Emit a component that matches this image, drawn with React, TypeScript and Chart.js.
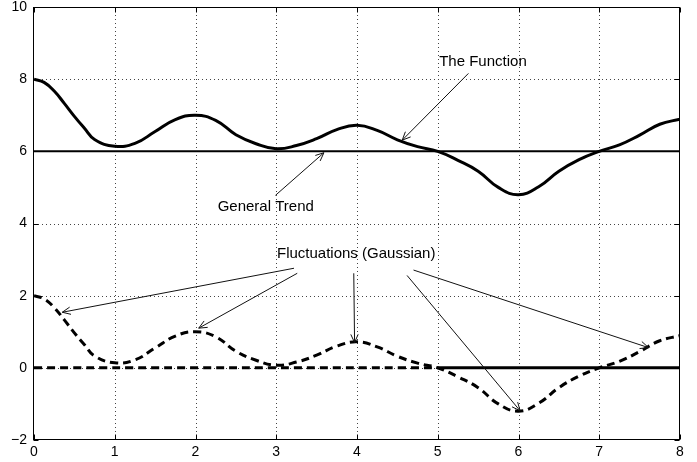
import React, { useEffect, useRef } from "react";
import { Chart, registerables } from "chart.js";

Chart.register(...registerables);

// ---- data ----
const xValues = [
  0, 0.125, 0.25, 0.375, 0.5, 0.625, 0.75, 1, 1.25, 1.5, 1.75, 2, 2.25, 2.5, 2.75, 3, 3.25, 3.5, 3.75, 4,
  4.25, 4.5, 4.75, 5, 5.25, 5.5, 5.75, 6, 6.25, 6.5, 6.75, 7, 7.25, 7.5, 7.75, 8,
];
const functionValues = [
  8.0, 7.91, 7.67, 7.33, 6.97, 6.64, 6.33, 6.14, 6.22, 6.55, 6.88, 7.0, 6.86, 6.46, 6.21, 6.07, 6.16, 6.35, 6.6, 6.72,
  6.58, 6.32, 6.13, 6.0, 5.75, 5.45, 5.0, 4.8, 5.02, 5.45, 5.77, 6.0, 6.18, 6.45, 6.75, 6.89,
];
const fluctuationValues = [
  2.0, 1.91, 1.67, 1.33, 0.97, 0.64, 0.33, 0.14, 0.22, 0.55, 0.88, 1.0, 0.86, 0.46, 0.21, 0.07, 0.16, 0.35, 0.6, 0.72,
  0.58, 0.32, 0.13, 0.0, -0.25, -0.55, -1.0, -1.2, -0.98, -0.55, -0.23, 0.0, 0.18, 0.45, 0.75, 0.89,
];
const trendX = [0, 8];
const trendY = [6, 6];
const baselineDashedX = [0, 5];
const baselineSolidX = [5, 8];
const baselineY = [0, 0];

const xTicks = [0, 1, 2, 3, 4, 5, 6, 7, 8];
const yTicks = [-2, 0, 2, 4, 6, 8, 10];

// annotation texts (data coordinates)
const labelTexts = ["The Function", "General Trend", "Fluctuations (Gaussian)"];
const labelX = [5.56, 2.87, 3.99];
const labelY = [8.47, 4.47, 3.16];

// arrows (data coordinates)
const arrowFromX = [5.38, 2.99, 3.22, 3.26, 3.96, 4.62, 4.7];
const arrowFromY = [8.16, 4.78, 2.76, 2.62, 2.62, 2.56, 2.71];
const arrowToX = [4.56, 3.59, 0.35, 2.04, 3.97, 6.02, 7.61];
const arrowToY = [6.31, 5.96, 1.54, 1.1, 0.7, -1.19, 0.56];

const FONT = "'Liberation Sans', Arial, Helvetica, sans-serif";

const pts = (xs: number[], ys: number[]) => xs.map((x, i) => ({ x, y: ys[i] }));

const framePlugin = {
  id: "frame",
  beforeDatasetsDraw(chart: any) {
    const { ctx, chartArea: a, scales } = chart;
    const xs = scales.x;
    const ys = scales.y;
    ctx.save();
    ctx.strokeStyle = "#444";
    ctx.lineWidth = 1;
    ctx.setLineDash([1, 3]);
    xTicks.slice(1, -1).forEach((v) => {
      const px = Math.round(xs.getPixelForValue(v)) + 0.5;
      ctx.beginPath();
      ctx.moveTo(px, a.top);
      ctx.lineTo(px, a.bottom);
      ctx.stroke();
    });
    yTicks.slice(1, -1).forEach((v) => {
      const py = Math.round(ys.getPixelForValue(v)) + 0.5;
      ctx.beginPath();
      ctx.moveTo(a.left, py);
      ctx.lineTo(a.right, py);
      ctx.stroke();
    });
    ctx.restore();
  },
  afterDatasetsDraw(chart: any) {
    const { ctx, chartArea: a, scales } = chart;
    const xs = scales.x;
    const ys = scales.y;
    ctx.save();
    ctx.setLineDash([]);
    ctx.strokeStyle = "#000";
    ctx.lineWidth = 1;
    const L = Math.round(a.left) - 0.5;
    const R = Math.round(a.right) - 0.5;
    const T = Math.round(a.top) + 0.5;
    const B = Math.round(a.bottom) - 0.5;
    ctx.strokeRect(L, T, R - L, B - T);
    const tl = 5;
    xTicks.forEach((v) => {
      const px = Math.round(xs.getPixelForValue(v)) + 0.5;
      ctx.beginPath();
      ctx.moveTo(px, B);
      ctx.lineTo(px, B - tl);
      ctx.moveTo(px, T);
      ctx.lineTo(px, T + tl);
      ctx.stroke();
    });
    yTicks.forEach((v) => {
      const py = Math.round(ys.getPixelForValue(v)) + 0.5;
      ctx.beginPath();
      ctx.moveTo(L, py);
      ctx.lineTo(L + tl, py);
      ctx.moveTo(R, py);
      ctx.lineTo(R - tl, py);
      ctx.stroke();
    });
    ctx.lineWidth = 1;
    ctx.strokeStyle = "#111";
    arrowFromX.forEach((fx, i) => {
      const x1 = xs.getPixelForValue(fx);
      const y1 = ys.getPixelForValue(arrowFromY[i]);
      const x2 = xs.getPixelForValue(arrowToX[i]);
      const y2 = ys.getPixelForValue(arrowToY[i]);
      ctx.beginPath();
      ctx.moveTo(x1, y1);
      ctx.lineTo(x2, y2);
      ctx.stroke();
      const ang = Math.atan2(y2 - y1, x2 - x1);
      const hl = 9;
      const spread = 0.42;
      ctx.beginPath();
      ctx.moveTo(x2 - hl * Math.cos(ang - spread), y2 - hl * Math.sin(ang - spread));
      ctx.lineTo(x2, y2);
      ctx.lineTo(x2 - hl * Math.cos(ang + spread), y2 - hl * Math.sin(ang + spread));
      ctx.stroke();
    });
    ctx.fillStyle = "#000";
    ctx.font = `15px ${FONT}`;
    ctx.textAlign = "center";
    ctx.textBaseline = "middle";
    labelTexts.forEach((t, i) => {
      ctx.fillText(t, xs.getPixelForValue(labelX[i]), ys.getPixelForValue(labelY[i]));
    });
    ctx.restore();
  },
};

export default function App() {
  const ref = useRef<HTMLCanvasElement | null>(null);
  useEffect(() => {
    if (!ref.current) return;
    const lineBase = {
      pointRadius: 0,
      borderColor: "#000",
      backgroundColor: "#000",
      fill: false,
      tension: 0.45,
    };
    const chart = new Chart(ref.current, {
      type: "line",
      data: {
        datasets: [
          { ...lineBase, label: "Function", data: pts(xValues, functionValues), borderWidth: 3 },
          { ...lineBase, label: "Trend", data: pts(trendX, trendY), borderWidth: 2 },
          {
            ...lineBase,
            label: "Fluctuations",
            data: pts(xValues, fluctuationValues),
            borderWidth: 3,
            borderDash: [8, 5],
          },
          {
            ...lineBase,
            label: "Baseline dashed",
            data: pts(baselineDashedX, baselineY),
            borderWidth: 3,
            borderDash: [8, 5],
          },
          { ...lineBase, label: "Baseline solid", data: pts(baselineSolidX, baselineY), borderWidth: 3 },
        ],
      },
      options: {
        animation: false,
        responsive: true,
        maintainAspectRatio: false,
        layout: { padding: { top: 7, right: 17, left: 0, bottom: 0 }, autoPadding: false } as any,
        plugins: { legend: { display: false }, tooltip: { enabled: false } },
        scales: {
          x: {
            type: "linear",
            min: 0,
            max: 8,
            grid: { display: false, drawTicks: false },
            border: { display: false },
            afterBuildTicks: (s: any) => {
              s.ticks = xTicks.map((v) => ({ value: v }));
            },
            afterFit: (s: any) => {
              s.height = 22;
              s.paddingLeft = 0;
              s.paddingRight = 0;
              s.paddingTop = 0;
              s.paddingBottom = 0;
            },
            ticks: {
              color: "#000",
              font: { family: FONT, size: 14 },
              padding: 4,
              maxRotation: 0,
              autoSkip: false,
              callback: (v: any) => String(v),
            },
          },
          y: {
            type: "linear",
            min: -2,
            max: 10,
            grid: { display: false, drawTicks: false },
            border: { display: false },
            afterBuildTicks: (s: any) => {
              s.ticks = yTicks.map((v) => ({ value: v }));
            },
            afterFit: (s: any) => {
              s.width = 34;
              s.paddingTop = 0;
              s.paddingBottom = 0;
              s.paddingLeft = 0;
              s.paddingRight = 0;
            },
            ticks: {
              color: "#000",
              font: { family: FONT, size: 14 },
              padding: 7,
              autoSkip: false,
              callback: (v: any) => String(v).replace("-", "\u2212"),
            },
          },
        },
      },
      plugins: [framePlugin],
    });
    return () => chart.destroy();
  }, []);
  return (
    <div style={{ position: "fixed", left: 0, top: 0, width: 697, height: 462, background: "#fff" }}>
      <canvas ref={ref} />
    </div>
  );
}
